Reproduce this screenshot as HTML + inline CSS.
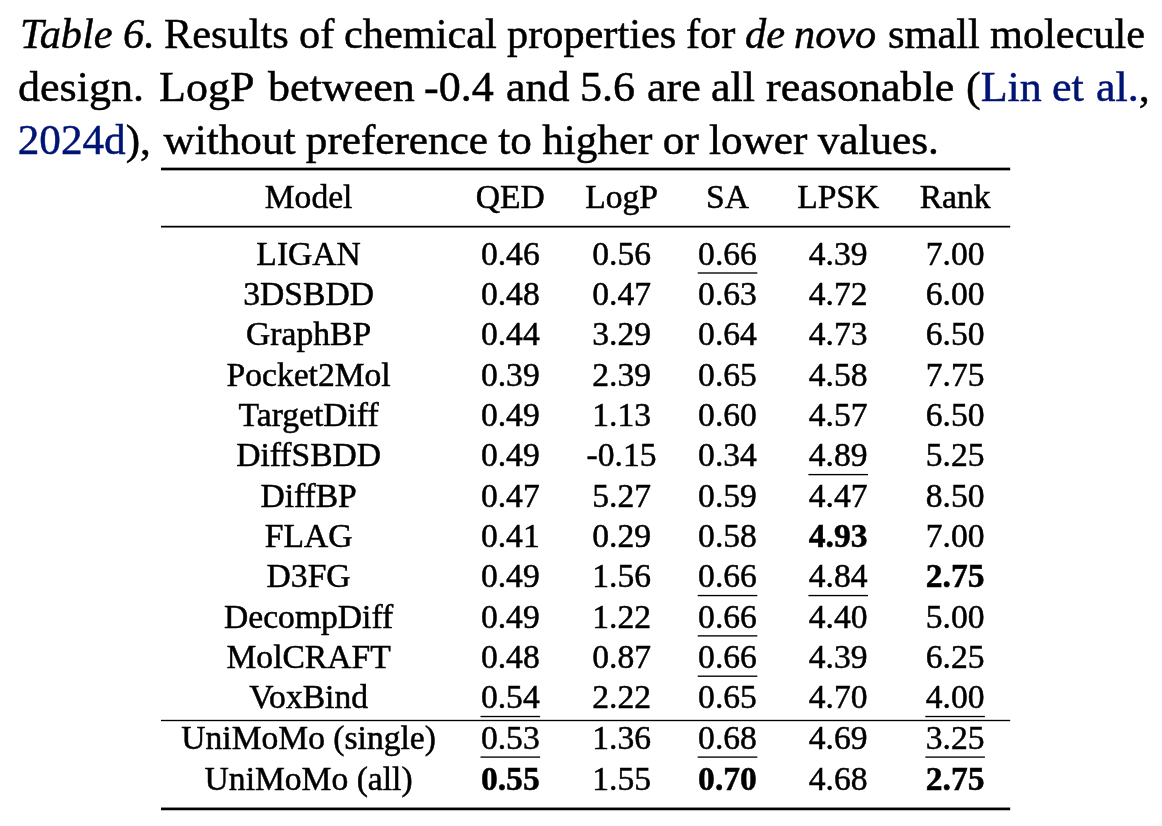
<!DOCTYPE html>
<html lang="en"><head><meta charset="utf-8"><title>Table 6</title>
<style>
html,body{margin:0;padding:0;background:#fff;}
body{-webkit-text-stroke:0.5px currentColor;width:1162px;height:826px;position:relative;overflow:hidden;font-family:"Liberation Serif","Times New Roman",serif;color:#000;}
.cap{position:absolute;left:17.7px;width:1126.6px;font-size:43.2px;line-height:1;white-space:nowrap;}
.w{position:absolute;top:0;white-space:pre;transform-origin:0 0;}
.cap a{color:#001473;text-decoration:none;}
.r{position:absolute;left:0;width:1162px;height:0;font-size:33.60px;line-height:1;}
.c{position:absolute;top:0;transform:translateX(-50%);white-space:nowrap;}
b{font-weight:bold;}
</style></head><body>

<div class="cap" style="left:0;top:12.02px"><span class="w" style="left:20.39px;transform:scaleX(0.980)"><i>Table</i> </span><span class="w" style="left:123.13px;transform:scaleX(0.980)"><i>6.</i> </span><span class="w" style="left:163.71px;transform:scaleX(0.980)">Results </span><span class="w" style="left:298.76px;transform:scaleX(0.980)">of </span><span class="w" style="left:343.75px;transform:scaleX(0.980)">chemical </span><span class="w" style="left:507.08px;transform:scaleX(0.980)">properties </span><span class="w" style="left:685.85px;transform:scaleX(0.980)">for </span><span class="w" style="left:745.42px;transform:scaleX(0.980)"><i>de</i> </span><span class="w" style="left:794.49px;transform:scaleX(0.980)"><i>novo</i> </span><span class="w" style="left:888.44px;transform:scaleX(0.980)">small </span><span class="w" style="left:989.86px;transform:scaleX(0.980)">molecule</span></div>
<div class="cap" style="left:0;top:64.72px"><span class="w" style="left:17.83px;transform:scaleX(1.020)">design. </span><span class="w" style="left:159.31px;transform:scaleX(1.020)">LogP </span><span class="w" style="left:268.25px;transform:scaleX(1.020)">between </span><span class="w" style="left:424.00px;transform:scaleX(1.020)">-0.4 </span><span class="w" style="left:506.31px;transform:scaleX(1.020)">and </span><span class="w" style="left:580.08px;transform:scaleX(1.020)">5.6 </span><span class="w" style="left:646.71px;transform:scaleX(1.020)">are </span><span class="w" style="left:710.71px;transform:scaleX(1.020)">all </span><span class="w" style="left:766.11px;transform:scaleX(1.020)">reasonable </span><span class="w" style="left:965.65px;transform:scaleX(1.020)">(<a>Lin</a> </span><span class="w" style="left:1052.05px;transform:scaleX(1.020)"><a>et</a> </span><span class="w" style="left:1095.77px;transform:scaleX(1.020)"><a>al.</a>,</span></div>
<div class="cap" style="top:117.82px"><a>2024d</a>),<span style="word-spacing:-0.5px;margin-left:2.4px"> without preference to higher or lower values.</span></div>
<svg width="1162" height="826" viewBox="0 0 1162 826" style="position:absolute;left:0;top:0"><rect x="161.00" y="167.65" width="849.20" height="2.70" fill="#000"/><rect x="161.00" y="225.78" width="849.20" height="1.75" fill="#000"/><rect x="161.00" y="719.83" width="849.20" height="1.34" fill="#000"/><rect x="161.00" y="807.55" width="849.20" height="2.70" fill="#000"/><rect x="697.70" y="272.33" width="59.60" height="1.34" fill="#000"/><rect x="808.40" y="473.93" width="59.60" height="1.34" fill="#000"/><rect x="697.70" y="594.89" width="59.60" height="1.34" fill="#000"/><rect x="808.40" y="594.89" width="59.60" height="1.34" fill="#000"/><rect x="697.70" y="635.21" width="59.60" height="1.34" fill="#000"/><rect x="697.70" y="675.53" width="59.60" height="1.34" fill="#000"/><rect x="480.50" y="715.85" width="59.60" height="1.34" fill="#000"/><rect x="925.30" y="715.85" width="59.60" height="1.34" fill="#000"/><rect x="480.50" y="756.43" width="59.60" height="1.34" fill="#000"/><rect x="697.70" y="756.43" width="59.60" height="1.34" fill="#000"/><rect x="925.30" y="756.43" width="59.60" height="1.34" fill="#000"/></svg>
<div class="r" style="top:179.66px"><span class="c" style="left:308.6px">Model</span><span class="c" style="left:510.3px">QED</span><span class="c" style="left:621.6px">LogP</span><span class="c" style="left:727.5px">SA</span><span class="c" style="left:838.2px">LPSK</span><span class="c" style="left:955.1px">Rank</span></div>
<div class="r" style="top:236.76px"><span class="c" style="left:308.6px">LIGAN</span><span class="c" style="left:510.3px">0.46</span><span class="c" style="left:621.6px">0.56</span><span class="c" style="left:727.5px">0.66</span><span class="c" style="left:838.2px">4.39</span><span class="c" style="left:955.1px">7.00</span></div>
<div class="r" style="top:277.08px"><span class="c" style="left:308.6px">3DSBDD</span><span class="c" style="left:510.3px">0.48</span><span class="c" style="left:621.6px">0.47</span><span class="c" style="left:727.5px">0.63</span><span class="c" style="left:838.2px">4.72</span><span class="c" style="left:955.1px">6.00</span></div>
<div class="r" style="top:317.40px"><span class="c" style="left:308.6px">GraphBP</span><span class="c" style="left:510.3px">0.44</span><span class="c" style="left:621.6px">3.29</span><span class="c" style="left:727.5px">0.64</span><span class="c" style="left:838.2px">4.73</span><span class="c" style="left:955.1px">6.50</span></div>
<div class="r" style="top:357.72px"><span class="c" style="left:308.6px">Pocket2Mol</span><span class="c" style="left:510.3px">0.39</span><span class="c" style="left:621.6px">2.39</span><span class="c" style="left:727.5px">0.65</span><span class="c" style="left:838.2px">4.58</span><span class="c" style="left:955.1px">7.75</span></div>
<div class="r" style="top:398.04px"><span class="c" style="left:308.6px">TargetDiff</span><span class="c" style="left:510.3px">0.49</span><span class="c" style="left:621.6px">1.13</span><span class="c" style="left:727.5px">0.60</span><span class="c" style="left:838.2px">4.57</span><span class="c" style="left:955.1px">6.50</span></div>
<div class="r" style="top:438.36px"><span class="c" style="left:308.6px">DiffSBDD</span><span class="c" style="left:510.3px">0.49</span><span class="c" style="left:621.6px">-0.15</span><span class="c" style="left:727.5px">0.34</span><span class="c" style="left:838.2px">4.89</span><span class="c" style="left:955.1px">5.25</span></div>
<div class="r" style="top:478.68px"><span class="c" style="left:308.6px">DiffBP</span><span class="c" style="left:510.3px">0.47</span><span class="c" style="left:621.6px">5.27</span><span class="c" style="left:727.5px">0.59</span><span class="c" style="left:838.2px">4.47</span><span class="c" style="left:955.1px">8.50</span></div>
<div class="r" style="top:519.00px"><span class="c" style="left:308.6px">FLAG</span><span class="c" style="left:510.3px">0.41</span><span class="c" style="left:621.6px">0.29</span><span class="c" style="left:727.5px">0.58</span><span class="c" style="left:838.2px"><b>4.93</b></span><span class="c" style="left:955.1px">7.00</span></div>
<div class="r" style="top:559.32px"><span class="c" style="left:308.6px">D3FG</span><span class="c" style="left:510.3px">0.49</span><span class="c" style="left:621.6px">1.56</span><span class="c" style="left:727.5px">0.66</span><span class="c" style="left:838.2px">4.84</span><span class="c" style="left:955.1px"><b>2.75</b></span></div>
<div class="r" style="top:599.64px"><span class="c" style="left:308.6px">DecompDiff</span><span class="c" style="left:510.3px">0.49</span><span class="c" style="left:621.6px">1.22</span><span class="c" style="left:727.5px">0.66</span><span class="c" style="left:838.2px">4.40</span><span class="c" style="left:955.1px">5.00</span></div>
<div class="r" style="top:639.96px"><span class="c" style="left:308.6px">MolCRAFT</span><span class="c" style="left:510.3px">0.48</span><span class="c" style="left:621.6px">0.87</span><span class="c" style="left:727.5px">0.66</span><span class="c" style="left:838.2px">4.39</span><span class="c" style="left:955.1px">6.25</span></div>
<div class="r" style="top:680.28px"><span class="c" style="left:308.6px">VoxBind</span><span class="c" style="left:510.3px">0.54</span><span class="c" style="left:621.6px">2.22</span><span class="c" style="left:727.5px">0.65</span><span class="c" style="left:838.2px">4.70</span><span class="c" style="left:955.1px">4.00</span></div>
<div class="r" style="top:720.86px"><span class="c" style="left:308.6px">UniMoMo (single)</span><span class="c" style="left:510.3px">0.53</span><span class="c" style="left:621.6px">1.36</span><span class="c" style="left:727.5px">0.68</span><span class="c" style="left:838.2px">4.69</span><span class="c" style="left:955.1px">3.25</span></div>
<div class="r" style="top:761.66px"><span class="c" style="left:308.6px">UniMoMo (all)</span><span class="c" style="left:510.3px"><b>0.55</b></span><span class="c" style="left:621.6px">1.55</span><span class="c" style="left:727.5px"><b>0.70</b></span><span class="c" style="left:838.2px">4.68</span><span class="c" style="left:955.1px"><b>2.75</b></span></div>
</body></html>
